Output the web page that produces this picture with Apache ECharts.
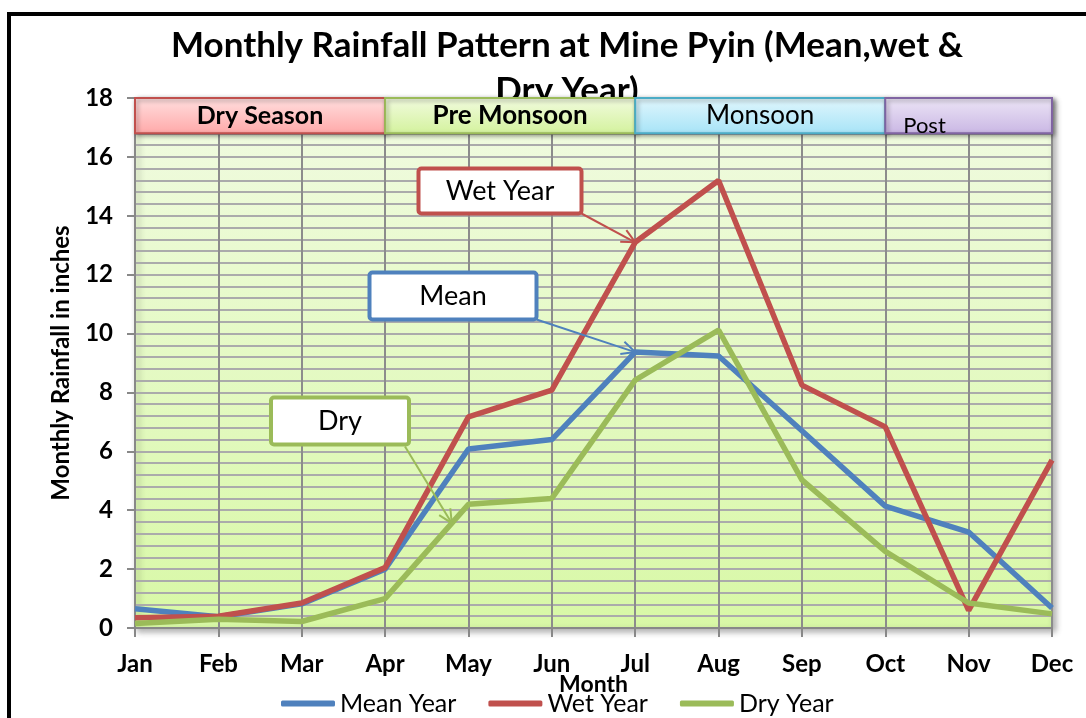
<!DOCTYPE html>
<html>
<head>
<meta charset="utf-8">
<script src="https://cdn.jsdelivr.net/npm/echarts@6/dist/echarts.min.js"></script>
<style>
  #main {height:718px;width:1086px;position:absolute;}
  body {margin:0;padding:0;overflow:hidden;background:#fff;}
</style>
</head>
<body>
<div id="main"></div>
<script>
// data (inches)
let months = ['Jan','Feb','Mar','Apr','May','Jun','Jul','Aug','Sep','Oct','Nov','Dec'];
let meanYear = [0.65, 0.38, 0.82, 2.0, 6.08, 6.4, 9.37, 9.24, 6.7, 4.14, 3.26, 0.68];
let wetYear  = [0.35, 0.4, 0.85, 2.05, 7.17, 8.08, 13.1, 15.2, 8.25, 6.83, 0.6, 5.7];
let dryYear  = [0.15, 0.3, 0.22, 1.0, 4.2, 4.4, 8.42, 10.12, 5.03, 2.6, 0.85, 0.48];
let seriesNames = ['Mean Year', 'Wet Year', 'Dry Year'];
let seasons = [['Dry Season','Jan','Apr'], ['Pre Monsoon','Apr','Jul'], ['Monsoon','Jul','Oct'], ['Post','Oct','Dec']];
let calloutNames = ['Mean', 'Wet Year', 'Dry'];

let FONT = 'Lato';
let colors = ['#4f81bd', '#c0504d', '#9bbb59'];

let seasonStyle = [
  {top:'#ffe0e0', bottom:'#ffa8a8', border:'#c0504d', bold:true, size:25},
  {top:'#f2fbe0', bottom:'#d3f29c', border:'#9bbb59', bold:true, size:26},
  {top:'#e2f7fd', bottom:'#a6e3f7', border:'#4bacc6', bold:false, size:26},
  {top:'#ede6f6', bottom:'#c9b6e4', border:'#8064a2', bold:false, size:22}
];

function grad(a, b) {
  return new echarts.graphic.LinearGradient(0, 0, 0, 1, [{offset:0, color:a}, {offset:1, color:b}]);
}

let bandData = seasons.map(function (s, i) {
  let st = seasonStyle[i];
  return [{
    name: s[0], xAxis: s[1], yAxis: 16.8,
    itemStyle: {color: grad(st.top, st.bottom), borderColor: st.border, borderWidth: 2,
      shadowColor: 'rgba(0,0,0,0.35)', shadowBlur: 4, shadowOffsetX: 2, shadowOffsetY: 2, opacity: 1},
    label: i === 3
      ? {position: 'insideBottomLeft', offset: [14, 8]}
      : {position: 'inside'},
  }, {xAxis: s[2], yAxis: 18}];
});
bandData.forEach(function (d, i) {
  let st = seasonStyle[i];
  d[0].label.fontSize = st.size;
  d[0].label.fontWeight = st.bold ? 'bold' : 'normal';
});

let myChart = echarts.init(document.getElementById('main'));
let values = [meanYear, wetYear, dryYear];

let series = values.map(function (v, i) {
  let s = {
    name: seriesNames[i],
    type: 'line',
    data: v,
    showSymbol: false,
    symbol: 'none',
    lineStyle: {width: 5.5, color: colors[i]},
    itemStyle: {color: colors[i]},
    z: 3
  };
  if (i === 0) {
    s.markArea = {
      silent: true,
      z: 5,
      label: {show: true, color: '#000', fontFamily: FONT},
      data: bandData
    };
  }
  return s;
});

let option = {
  animation: false,
  backgroundColor: '#fff',
  textStyle: {fontFamily: FONT},
  title: {
    text: 'Monthly Rainfall Pattern at Mine Pyin (Mean,wet &\nDry Year)',
    left: 562,
    textAlign: 'center',
    top: 18,
    z: 1,
    textStyle: {fontSize: 35, fontWeight: 'bold', color: '#000', fontFamily: FONT, lineHeight: 45}
  },
  grid: {
    left: 135, right: 34, top: 98, bottom: 90,
    show: true,
    backgroundColor: grad('#f1fbe2', '#d8f8a6'),
    borderColor: '#9bbb59',
    borderWidth: 2,
    shadowColor: 'rgba(0,0,0,0.3)',
    shadowBlur: 6,
    shadowOffsetX: 3,
    shadowOffsetY: 3
  },
  legend: {
    data: seriesNames,
    bottom: -3,
    left: 276,
    icon: 'roundRect',
    itemWidth: 54,
    itemHeight: 6,
    itemGap: 32,
    textStyle: {fontSize: 25, color: '#000', fontFamily: FONT}
  },
  xAxis: {
    type: 'category',
    data: months,
    boundaryGap: false,
    name: 'Month',
    nameLocation: 'middle',
    nameGap: 45,
    nameMoveOverlap: false,
    nameTextStyle: {fontSize: 23, fontWeight: 'bold', color: '#000'},
    axisLine: {lineStyle: {color: '#888', width: 2}},
    axisTick: {length: 9, lineStyle: {color: '#888', width: 2}},
    axisLabel: {margin: 24, fontSize: 24, fontWeight: 'bold', color: '#000'},
    splitLine: {show: true, lineStyle: {color: '#8c8c8c', width: 2}}
  },
  yAxis: {
    type: 'value',
    min: 0, max: 18, interval: 2,
    name: 'Monthly Rainfall in inches',
    nameLocation: 'middle',
    nameGap: 62,
    nameTextStyle: {fontSize: 24, fontWeight: 'bold', color: '#000'},
    axisLine: {show: true, lineStyle: {color: '#888', width: 2}},
    axisTick: {show: true, length: 8, lineStyle: {color: '#888', width: 2}},
    axisLabel: {margin: 22, fontSize: 24, fontWeight: 'bold', color: '#000'},
    splitLine: {show: true, lineStyle: {color: '#ababab', width: 2}},
    minorTick: {show: false, splitNumber: 5},
    minorSplitLine: {show: true, lineStyle: {color: '#ababab', width: 2}}
  },
  series: series
};
myChart.setOption(option);

// callout boxes with arrows, pointing at places on the lines
// [box center x, box center y (px), box width, box height, series index, x index of target]
let calloutBoxes = [
  [453, 296, 167, 47, 0, 6],
  [500, 191, 163, 45, 1, 6],
  [340, 421, 138, 47, 2, 3.8]
];

function pointOn(si, xi) {
  let i0 = Math.floor(xi), i1 = Math.min(i0 + 1, months.length - 1);
  let p0 = myChart.convertToPixel({gridIndex: 0}, [i0, values[si][i0]]);
  let p1 = myChart.convertToPixel({gridIndex: 0}, [i1, values[si][i1]]);
  let t = xi - i0;
  return [p0[0] + (p1[0] - p0[0]) * t, p0[1] + (p1[1] - p0[1]) * t];
}

let graphics = [{
  type: 'rect', silent: true, z: 0,
  shape: {x: 9, y: 14, width: 1200, height: 800},
  style: {fill: null, stroke: '#000', lineWidth: 4}
}];

calloutBoxes.forEach(function (b) {
  let si = b[4];
  let c = colors[si];
  let x0 = b[0] - b[2] / 2, y0 = b[1] - b[3] / 2;
  let tgt = pointOn(si, b[5]);
  let start;
  if (si === 2) start = [x0 + b[2] - 4, y0 + b[3] + 2];
  else start = [x0 + b[2], y0 + b[3]];
  let ang = Math.atan2(tgt[1] - start[1], tgt[0] - start[0]);
  let L = 15, spread = 0.45;
  let h1 = [tgt[0] - L * Math.cos(ang - spread), tgt[1] - L * Math.sin(ang - spread)];
  let h2 = [tgt[0] - L * Math.cos(ang + spread), tgt[1] - L * Math.sin(ang + spread)];
  graphics.push({
    type: 'line', silent: true, z: 20,
    shape: {x1: start[0], y1: start[1], x2: tgt[0], y2: tgt[1]},
    style: {stroke: c, lineWidth: 2}
  });
  graphics.push({
    type: 'polyline', silent: true, z: 20,
    shape: {points: [h1, tgt, h2]},
    style: {stroke: c, lineWidth: 2, fill: null}
  });
  graphics.push({
    type: 'rect', silent: true, z: 21,
    shape: {x: x0, y: y0, width: b[2], height: b[3], r: 3},
    style: {fill: '#fff', stroke: c, lineWidth: 4}
  });
  graphics.push({
    type: 'text', silent: true, z: 22,
    x: b[0], y: b[1],
    style: {text: calloutNames[si], fill: '#000', font: '27px ' + FONT, align: 'center', verticalAlign: 'middle'}
  });
});

myChart.setOption({graphic: graphics});
window.onresize = myChart.resize;
</script>
</body>
</html>
